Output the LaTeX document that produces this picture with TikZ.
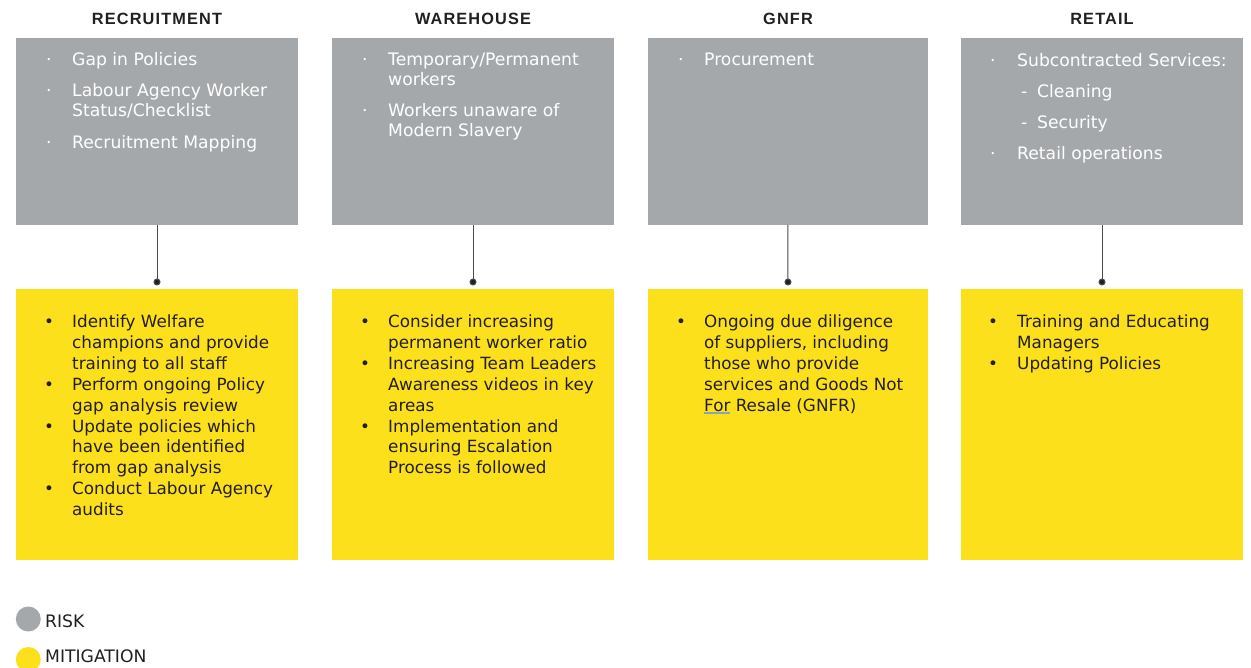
\documentclass[tikz,border=0pt]{standalone}
\usepackage{fontspec}
\setmainfont{DejaVu Sans}
\newfontfamily\hdfont[LetterSpace=7]{Liberation Sans}
\usetikzlibrary{arrows.meta}
\definecolor{riskgray}{HTML}{A5A8AB}
\definecolor{mityellow}{HTML}{FCE01B}
\definecolor{ink}{HTML}{231F20}
\definecolor{connline}{HTML}{4A4A4A}
\definecolor{spellline}{HTML}{8AA6B0}
\begin{document}
\begin{tikzpicture}[x=1pt,y=-1pt,
  riskbox/.style={fill=riskgray, draw=none, minimum width=282pt, minimum height=186.5pt, inner sep=0pt, outer sep=0pt, anchor=north west},
  mitbox/.style={fill=mityellow, draw=none, minimum width=282pt, minimum height=270.5pt, inner sep=0pt, outer sep=0pt, anchor=north west},
  header/.style={font=\hdfont\bfseries\fontsize{16.3}{19}\selectfont, text=ink, inner sep=0pt, anchor=base},
  risktxt/.style={font=\fontsize{17.2}{20}\selectfont, text=white, inner sep=0pt, anchor=base west},
  mittxt/.style={font=\fontsize{16.8}{20.8}\selectfont, text=ink, inner sep=0pt, anchor=base west},
  legtxt/.style={font=\fontsize{17.2}{20}\selectfont, text=ink, inner sep=0pt, anchor=base west},
  conn/.style={draw=connline, line width=1pt, -{Circle[length=7pt, fill=ink]}},
]
\useasboundingbox (0,0) rectangle (1251,668);

% headers
\node[header] (h1) at (157,25) {RECRUITMENT};
\node[header] (h2) at (473,25) {WAREHOUSE};
\node[header] (h3) at (788,25) {GNFR};
\node[header] (h4) at (1102,25) {RETAIL};

% risk boxes
\node[riskbox] (g1) at (16,38.5) {};
\node[riskbox] (g2) at (332,38.5) {};
\node[riskbox, minimum width=280.5pt] (g3) at (647.5,38.5) {};
\node[riskbox] (g4) at (961,38.5) {};

% mitigation boxes
\node[mitbox] (y1) at (16,289.5) {};
\node[mitbox] (y2) at (332,289.5) {};
\node[mitbox, minimum width=280.5pt] (y3) at (647.5,289.5) {};
\node[mitbox] (y4) at (961,289.5) {};

% connectors
\coordinate (d1) at (157,285.5);
\coordinate (d2) at (473,285.5);
\coordinate (d3) at (788,285.5);
\coordinate (d4) at (1102,285.5);
\draw[conn] (g1.south) -- (d1);
\draw[conn] (g2.south) -- (d2);
\draw[conn] (g3.south) -- (d3);
\draw[conn] (g4.south) -- (d4);

% risk texts
\node[risktxt] (rb11) at (46,66) {·};
\node[risktxt] (rt11) at (72,66) {Gap in Policies};
\node[risktxt] (rb12) at (46,97) {·};
\node[risktxt] (rt12) at (72,97) {Labour Agency Worker};
\node[risktxt] (rt12b) at (72,117) {Status/Checklist};
\node[risktxt] (rb13) at (46,149) {·};
\node[risktxt] (rt13) at (72,149) {Recruitment Mapping};

\node[risktxt] (rb21) at (362,66) {·};
\node[risktxt] (rt21) at (388,66) {Temporary/Permanent};
\node[risktxt] (rt21b) at (388,86) {workers};
\node[risktxt] (rb22) at (362,117) {·};
\node[risktxt] (rt22) at (388,117) {Workers unaware of};
\node[risktxt] (rt22b) at (388,137) {Modern Slavery};

\node[risktxt] (rb31) at (678,66) {·};
\node[risktxt] (rt31) at (704,66) {Procurement};

\node[risktxt] (rb41) at (990,66.5) {·};
\node[risktxt] (rt41) at (1017,66.5) {Subcontracted Services:};
\node[risktxt] (rd42) at (1021,97.5) {-};
\node[risktxt] (rt42) at (1037,97.5) {Cleaning};
\node[risktxt] (rd43) at (1021,128.5) {-};
\node[risktxt] (rt43) at (1037,128.5) {Security};
\node[risktxt] (rb44) at (990,159.5) {·};
\node[risktxt] (rt44) at (1017,159.5) {Retail operations};

% mitigation texts
\foreach \t [count=\i from 0] in {Identify Welfare, champions and provide, training to all staff, Perform ongoing Policy, gap analysis review, Update policies which, have been identified, from gap analysis, Conduct Labour Agency, audits}
  \node[mittxt] (m1-\i) at (72,328+20.8*\i) {\t};
\foreach \i in {0,3,5,8}
  \node[mittxt] (mb1-\i) at (44,328+20.8*\i) {•};

\foreach \t [count=\i from 0] in {Consider increasing, permanent worker ratio, Increasing Team Leaders, Awareness videos in key, areas, Implementation and, ensuring Escalation, Process is followed}
  \node[mittxt] (m2-\i) at (388,328+20.8*\i) {\t};
\foreach \i in {0,2,5}
  \node[mittxt] (mb2-\i) at (360,328+20.8*\i) {•};

\foreach \t [count=\i from 0] in {Ongoing due diligence, {of suppliers, including}, those who provide, services and Goods Not, For Resale (GNFR)}
  \node[mittxt] (m3-\i) at (704,328+20.8*\i) {\t};
\node[mittxt] (mb3-0) at (676,328) {•};
\draw[spellline, line width=1.2pt] (704,413) -- (730,413);

\foreach \t [count=\i from 0] in {Training and Educating, Managers, Updating Policies}
  \node[mittxt] (m4-\i) at (1017,328+20.8*\i) {\t};
\foreach \i in {0,2}
  \node[mittxt] (mb4-\i) at (988,328+20.8*\i) {•};

% legend
\node[circle, fill=riskgray, minimum size=25pt, inner sep=0pt] (lg1) at (28.3,619) {};
\node[legtxt] (lt1) at (45,627) {RISK};
\node[circle, fill=mityellow, minimum size=25pt, inner sep=0pt] (lg2) at (28.3,659.5) {};
\node[legtxt] (lt2) at (45,662) {MITIGATION};
\end{tikzpicture}
\end{document}
